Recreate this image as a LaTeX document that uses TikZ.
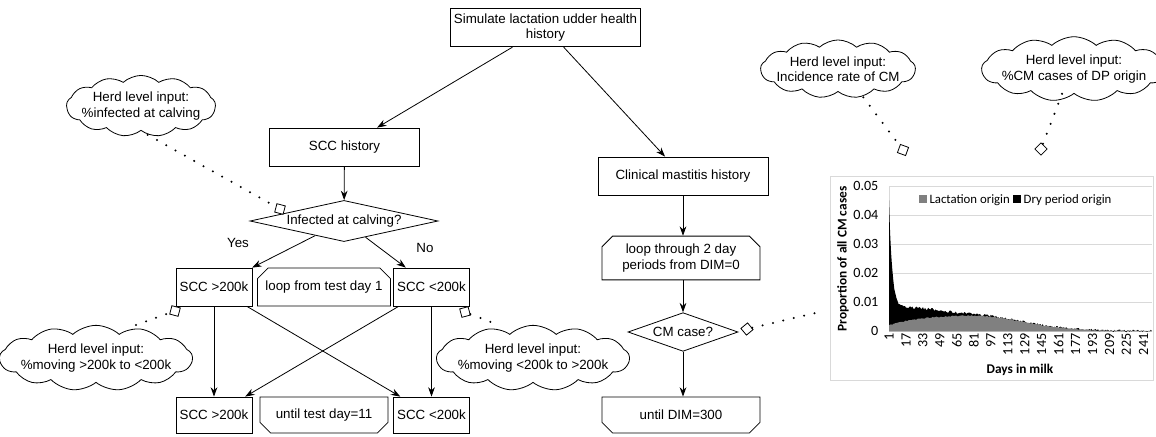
\documentclass[tikz,border=0pt]{standalone}
\usepackage{fontspec}
\setmainfont{Liberation Sans}
\newfontfamily\chartfont{Carlito}
\usetikzlibrary{shapes.geometric,shapes.misc,shapes.symbols,arrows.meta}

\definecolor{lactgray}{RGB}{128,128,128}
\definecolor{gridgray}{RGB}{217,217,217}

\tikzset{
  flowbox/.style={draw, rectangle, line width=0.6pt, align=center, inner sep=2pt},
  loopbox/.style={draw, chamfered rectangle, chamfered rectangle xsep=4pt,
    chamfered rectangle ysep=4pt, line width=0.6pt, align=center, inner sep=2pt},
  decision/.style={draw, diamond, aspect=4, inner sep=0pt, line width=0.6pt},
  herdcloud/.style={draw, cloud, cloud puffs=13, cloud puff arc=85, cloud ignores aspect,
    align=center, inner xsep=-5pt, inner ysep=2.5pt, line width=0.6pt},
  flowarrow/.style={line width=0.6pt, -{Stealth[length=7pt,width=5pt]}},
  dotlink/.style={line width=1.7pt, line cap=round, dash pattern=on 0pt off 8pt},
  tipbox/.style={draw, fill=white, rectangle, inner sep=0pt, minimum size=6.5pt, line width=0.6pt},
  chartlabel/.style={font=\chartfont\fontsize{9.6}{11}\selectfont, inner sep=1pt},
  ticklabel/.style={font=\chartfont\fontsize{10.6}{12}\selectfont, inner sep=1pt},
}

\begin{document}
\begin{tikzpicture}[x=0.75pt, y=-0.75pt, font=\fontsize{10}{11.5}\selectfont,
  declare function={
    gr(\d)=0.0056*(1-exp(max(-(\d+12)/30,-9)))*exp(-(max(\d-75,0)/70)^2);
    dp(\d)=0.038*exp(max(-(\d-1)/3,-9))+0.005*exp(max(-(\d/55)^2,-9));}]
\useasboundingbox (0,0) rectangle (1156,436);
\pgfmathsetseed{7}

% main flow
\node[flowbox, minimum width=143pt, minimum height=29pt] (sim) at (545.5,27.5) {Simulate lactation udder health\\history};
\node[flowbox, minimum width=112pt, minimum height=28.5pt] (scchist) at (344.5,147) {SCC history};
\node[flowbox, minimum width=127.5pt, minimum height=28.5pt] (cmhist) at (683,176) {Clinical mastitis history};

\node[decision, minimum width=141pt, minimum height=28pt] (infected) at (344,221) {Infected at calving?};
\node (yes) at (238,243) {Yes};
\node (no) at (425,248) {No};

% SCC part
\node[flowbox, minimum width=57pt, minimum height=28.5pt] (hiA) at (214,287) {SCC >200k};
\node[loopbox, chamfered rectangle corners={north west,north east}, minimum width=96pt, minimum height=28.5pt] (looptd) at (324,287) {loop from test day 1};
\node[flowbox, minimum width=57.5pt, minimum height=28.5pt] (loA) at (431.5,287) {SCC <200k};
\node[flowbox, minimum width=57pt, minimum height=27pt] (hiB) at (214,415) {SCC >200k};
\node[loopbox, chamfered rectangle corners={south west,south east}, minimum width=96pt, minimum height=27pt] (untiltd) at (324,415) {until test day=11};
\node[flowbox, minimum width=57.5pt, minimum height=27pt] (loB) at (431.5,415) {SCC <200k};

% CM part
\node[loopbox, chamfered rectangle corners={north west,north east}, minimum width=118.5pt, minimum height=30pt] (loopdim) at (681,258) {loop through 2 day\\periods from DIM=0};
\node[decision, aspect=3, minimum width=82.5pt, minimum height=29pt] (cmcase) at (683,332) {CM case?};
\node[loopbox, chamfered rectangle corners={south west,south east}, minimum width=118.5pt, minimum height=27pt] (untildim) at (681,415) {until DIM=300};

\draw[flowarrow] (sim) -- (scchist);
\draw[flowarrow] (sim) -- (cmhist);
\draw[flowarrow] (scchist) -- (infected);
\draw[flowarrow] (infected) -- (hiA);
\draw[flowarrow] (infected) -- (loA);
\draw[flowarrow] (hiA) -- (hiB);
\draw[flowarrow] (hiA) -- (loB);
\draw[flowarrow] (loA) -- (hiB);
\draw[flowarrow] (loA) -- (loB);
\draw[flowarrow] (cmhist) -- (cmhist |- loopdim.north);
\draw[flowarrow] (loopdim.south -| cmcase) -- (cmcase);
\draw[flowarrow] (cmcase) -- (cmcase |- untildim.north);

% herd level inputs
\node[herdcloud] (cinf) at (141,106) {Herd level input:\\\%infected at calving};
\node[herdcloud] (chilo) at (96,358) {Herd level input:\\\%moving >200k to <200k};
\node[herdcloud] (clohi) at (533,358) {Herd level input:\\\%moving <200k to >200k};
\node[herdcloud] (cinc) at (838,69) {Herd level input:\\Incidence rate of CM};
\node[herdcloud] (cdp) at (1074,69) {Herd level input:\\\%CM cases of DP origin};

\node[tipbox, rotate=-15] (tinf) at (280,209) {};
\node[tipbox, rotate=-15] (thilo) at (175,311) {};
\node[tipbox, rotate=15] (tlohi) at (465,312) {};
\node[tipbox, rotate=40] (tcm) at (747,329) {};
\node[tipbox, rotate=-20] (tinc) at (903,150) {};
\node[tipbox, rotate=45] (tdp) at (1041,149) {};
\coordinate (chartleft) at (824,311);

\draw[dotlink] ([xshift=5pt,yshift=-3pt]cinf.south) -- (tinf);
\draw[dotlink] ([xshift=30pt]chilo.north) -- (thilo);
\draw[dotlink] (tlohi) -- ([xshift=-26pt]clohi.north);
\draw[dotlink] (tcm) -- (chartleft);
\draw[dotlink] ([xshift=19pt,yshift=-4pt]cinc.south) -- (tinc);
\draw[dotlink] ([xshift=-9pt]cdp.south) -- (tdp);

% chart
\draw[gridgray, line width=0.75pt] (830,176) rectangle (1153,380);
\foreach \v in {0,...,5}
  \draw[gridgray, line width=0.75pt] (889,{331-29*\v}) -- (1152,{331-29*\v});
\draw[gridgray, line width=0.75pt] (889,187) -- (889,331);
\fill[black] (889,331) -- plot[domain=1:248, samples=248]
  ({889+(\x-1)*1.06},{331-2900*(gr(\x)+dp(\x))-1.3*rand}) -- (1152,331) -- cycle;
\fill[lactgray] (889,331) -- plot[domain=1:248, samples=248]
  ({889+(\x-1)*1.06},{331-2900*gr(\x)-0.6*rand}) -- (1152,331) -- cycle;

\foreach \v/\t in {0/0,1/0.01,2/0.02,3/0.03,4/0.04,5/0.05}
  \node[ticklabel, anchor=east] (ytick\v) at (880,{331-29*\v}) {\t};
\foreach \d in {1,17,...,241}
  \node[ticklabel, rotate=90, anchor=east] (xtick\d) at ({889+(\d-1)*1.06},332) {\d};
\node[chartlabel, font=\chartfont\bfseries\fontsize{10}{11}\selectfont] (xtitle) at (1020,370) {Days in milk};
\node[chartlabel, rotate=90, font=\chartfont\bfseries\fontsize{10}{11}\selectfont] (ytitle) at (843,259) {Proportion of all CM cases};
\node[chartlabel, anchor=west] (legend) at (917,200)
  {\textcolor{lactgray}{\rule{6pt}{6pt}} Lactation origin \rule{6pt}{6pt} Dry period origin};
\end{tikzpicture}
\end{document}
